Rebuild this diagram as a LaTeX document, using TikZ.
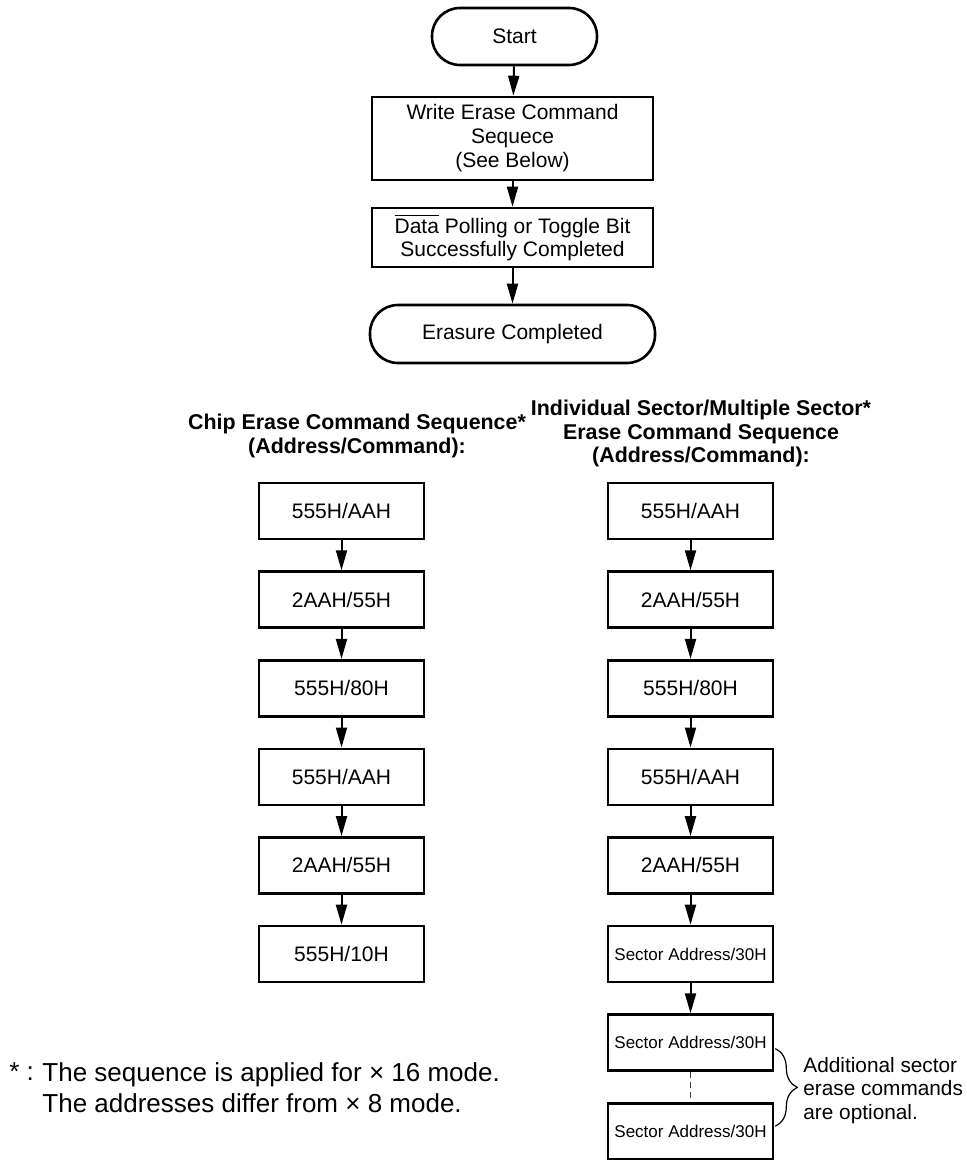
\documentclass[tikz,border=0pt]{standalone}
\usepackage{fontspec}
\setmainfont{Liberation Sans}
\usetikzlibrary{arrows.meta,decorations.pathreplacing}

\tikzset{
	stepbox/.style={draw, line width=1.3pt, inner sep=0pt, align=center,
		font=\fontsize{10.5}{12}\selectfont},
	cmdbox/.style={stepbox, minimum width=82.5pt, minimum height=28pt},
	termbox/.style={stepbox, rounded corners=14pt},
	flowarrow/.style={line width=1pt, -{Triangle[length=10pt,width=5.5pt]}},
	headtext/.style={align=center, font=\fontsize{10.7}{12}\selectfont\bfseries}}
\tikzset{every picture/.style={line width=0.75pt}}

\begin{document}
\begin{tikzpicture}[x=0.5pt,y=0.5pt,yscale=-1,xscale=1]
	\path[use as bounding box] (0,0) rectangle (967,1160);

	% Main flow
	\node [termbox, minimum width=82.5pt, minimum height=28.5pt] (start) at (514.5,36.5) {Start};
	\node [stepbox, minimum width=140.5pt, minimum height=41.5pt] (write) at (512.5,138.5) {Write Erase Command\\Sequece\\(See Below)};
	\node [stepbox, minimum width=140.5pt, minimum height=29.5pt, font=\fontsize{10.5}{11.5}\selectfont] (poll) at (512.5,237.5) {$\overline{\mbox{Data}}$ Polling or Toggle Bit\\Successfully Completed};
	\node [termbox, minimum width=142.5pt, minimum height=29pt] (done) at (512.5,334) {Erasure Completed};

	\draw [flowarrow] (start) -- (write);
	\draw [flowarrow] (write) -- (poll);
	\draw [flowarrow] (poll) -- (done);

	% Text Node
	\node [headtext] (chiphead) at (357,436) {Chip Erase Command Sequence*\\(Address/Command):};
	% Text Node
	\node [headtext, font=\fontsize{10.7}{11.75}\selectfont\bfseries] (secthead) at (701,433.5) {Individual Sector/Multiple Sector*\\Erase Command Sequence\\(Address/Command):};

	% Chip erase sequence
	\node [cmdbox] (c1) at (341.5,511) {555H/AAH};
	\node [cmdbox] (c2) at (341.5,599.6) {2AAH/55H};
	\node [cmdbox] (c3) at (341.5,688.2) {555H/80H};
	\node [cmdbox] (c4) at (341.5,776.8) {555H/AAH};
	\node [cmdbox] (c5) at (341.5,865.4) {2AAH/55H};
	\node [cmdbox] (c6) at (341.5,954) {555H/10H};

	\draw [flowarrow] (c1) -- (c2);
	\draw [flowarrow] (c2) -- (c3);
	\draw [flowarrow] (c3) -- (c4);
	\draw [flowarrow] (c4) -- (c5);
	\draw [flowarrow] (c5) -- (c6);

	% Sector erase sequence
	\node [cmdbox] (s1) at (690.5,511) {555H/AAH};
	\node [cmdbox] (s2) at (690.5,599.6) {2AAH/55H};
	\node [cmdbox] (s3) at (690.5,688.2) {555H/80H};
	\node [cmdbox] (s4) at (690.5,776.8) {555H/AAH};
	\node [cmdbox] (s5) at (690.5,865.4) {2AAH/55H};
	\node [cmdbox, font=\fontsize{8.5}{10}\selectfont] (s6) at (690.5,954) {Sector Address/30H};
	\node [cmdbox, font=\fontsize{8.5}{10}\selectfont] (s7) at (690.5,1042.6) {Sector Address/30H};
	\node [cmdbox, font=\fontsize{8.5}{10}\selectfont] (s8) at (690.5,1131.2) {Sector Address/30H};

	\draw [flowarrow] (s1) -- (s2);
	\draw [flowarrow] (s2) -- (s3);
	\draw [flowarrow] (s3) -- (s4);
	\draw [flowarrow] (s4) -- (s5);
	\draw [flowarrow] (s5) -- (s6);
	\draw [flowarrow] (s6) -- (s7);
	\draw [dash pattern={on 3pt off 2pt}, line width=0.6pt, black!75] (s7) -- (s8);

	% Brace for the optional commands
	\draw [line width=0.6pt, decorate, decoration={brace, amplitude=11pt}] ([xshift=0.5pt,yshift=3pt]s7.east) -- ([xshift=0.5pt,yshift=-2.5pt]s8.east);
	% Text Node
	\node [anchor=west, align=left, font=\fontsize{10.4}{11.75}\selectfont] (optnote) at (796,1090.5) {Additional sector\\erase commands\\are optional.};

	% Text Node
	\node [anchor=west, font=\fontsize{13}{15.5}\selectfont] (fnmark) at (2,1072) {* :};
	\node [anchor=west, align=left, font=\fontsize{13}{15.5}\selectfont] (fntext) at (35,1087.5) {The sequence is applied for × 16 mode.\\The addresses differ from × 8 mode.};

\end{tikzpicture}
\end{document}
